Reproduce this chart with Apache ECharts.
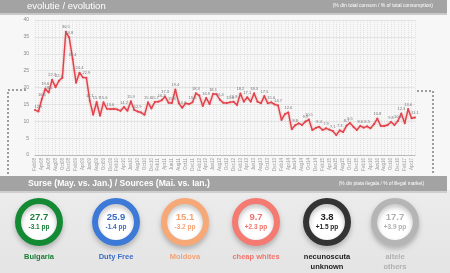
<!DOCTYPE html>
<html>
<head>
<meta charset="utf-8">
<script src="https://cdn.jsdelivr.net/npm/echarts@6/dist/echarts.min.js"></script>
<style>
  html, body { margin: 0; padding: 0; background: #f6f6f6; }
  #chart { width: 450px; height: 273px; }
</style>
</head>
<body>
<div id="chart"></div>
<script>
// evolutie - % din total consum (lunar)
const illegalShare = [
  13.3, 12.9, 16.6, 19.6, 18.5, 22.3, 20.1, 22.0, 22.9, 36.5,
  34.8, 28.4, 21.4, 24.4, 23.0, 22.9, 16.1, 11.9, 15.7, 11.6,
  15.6, 13.7, 13.6, 13.7, 13.5, 13.1, 14.2, 13.1, 15.9, 13.3,
  12.9, 12.6, 11.9, 15.6, 13.8, 15.7, 15.8, 16.2, 17.3, 15.5,
  15.4, 19.4, 15.3, 14.0, 15.3, 15.1, 15.6, 18.3, 17.6, 14.5,
  16.9, 15.1, 18.1, 18.0, 16.4, 15.5, 15.4, 15.6, 15.8, 14.8,
  18.2, 15.8, 17.1, 15.8, 18.3, 15.8, 15.3, 17.5, 15.3, 15.6,
  15.0, 14.7, 10.4, 12.1, 12.6, 7.6, 8.8, 9.4, 8.9, 9.9,
  10.5, 7.4, 8.0, 8.4, 7.4, 7.9, 7.5, 7.1, 5.9, 7.3,
  6.8, 8.7, 9.5, 8.4, 7.4, 8.6, 8.1, 8.5, 7.9, 9.1,
  10.8, 8.6, 8.6, 8.9, 9.8, 8.9, 10.1, 12.3, 9.4, 13.6,
  10.9, 11.1
];
// puncte cu eticheta vizibila
const labeledPoints = [
  1, 2, 3, 4, 5, 7, 9, 10, 11, 13, 15, 16, 18, 20, 22, 26, 28, 30, 33, 35,
  37, 38, 40, 41, 43, 46, 47, 50, 52, 54, 57, 58, 60, 62, 64, 67, 69, 71, 74, 76,
  79, 80, 83, 85, 87, 89, 91, 92, 95, 97, 100, 104, 106, 107, 109, 111
];
const monthNames = ["Jan", "Feb", "Mar", "Apr", "May", "Jun", "Jul", "Aug", "Sep", "Oct", "Nov", "Dec"];
const startYear = 2008;
const startMonth = 1; // Feb
const periods = illegalShare.map((_v, i) => {
  const m = (startMonth + i) % 12;
  const y = startYear + Math.floor((startMonth + i) / 12);
  return monthNames[m] + String(y).slice(2);
});

// surse - % din piata ilegala
const sourceNames = ["Bulgaria", "Duty Free", "Moldova", "cheap whites", "necunoscuta\nunknown", "altele\nothers"];
const sourceShares = [27.7, 25.9, 15.1, 9.7, 3.8, 17.7];
const sourceDeltas = [-3.1, -1.4, -3.2, 2.3, 1.5, 3.9];
const sourceColors = ["#148a35", "#3d7ad8", "#f6a877", "#f47a72", "#333333", "#b5b5b5"];
const sourceTextColors = ["#1a7d36", "#3a6cc4", "#f4a272", "#f2736b", "#222222", "#b0b0b0"];
const ringCenters = [39, 116, 185, 256, 327, 395];

const chart = echarts.init(document.getElementById("chart"), null, { renderer: "canvas" });

const fmtDelta = (d) => (d > 0 ? "+" : "") + d.toFixed(1) + " pp";

const ringSeries = [];
sourceShares.forEach((v, i) => {
  // disc alb
  ringSeries.push({
    type: "pie",
    silent: true,
    center: [ringCenters[i], 222],
    radius: [0, 18],
    z: 2,
    label: { show: false },
    labelLine: { show: false },
    itemStyle: { color: "#ffffff" },
    data: [{ value: v, name: sourceNames[i] }],
  });
  // inel
  ringSeries.push({
    type: "pie",
    silent: true,
    center: [ringCenters[i], 222],
    radius: [18, 24],
    z: 3,
    labelLine: { show: false },
    itemStyle: {
      color: sourceColors[i],
      shadowBlur: 5,
      shadowOffsetY: 3,
      shadowColor: "rgba(0,0,0,0.25)",
    },
    label: {
      show: true,
      position: "center",
      formatter: () => `{v|${v.toFixed(1)}}\n{d|${fmtDelta(sourceDeltas[i])}}`,
      rich: {
        v: { fontSize: 9.5, fontWeight: "bold", color: sourceTextColors[i], fontFamily: "Liberation Sans", lineHeight: 11 },
        d: { fontSize: 6.5, fontWeight: "bold", color: sourceTextColors[i], fontFamily: "Liberation Sans", lineHeight: 9 },
      },
    },
    data: [{ value: v, name: sourceNames[i] }],
  });
});

const nameTexts = sourceNames.map((n, i) => ({
  type: "text",
  z: 10,
  x: ringCenters[i],
  y: 252,
  style: {
    text: n,
    fill: sourceTextColors[i],
    font: "bold 7.5px 'Liberation Sans'",
    textAlign: "center",
    lineHeight: 10,
  },
}));

const dash = { stroke: "#444", lineWidth: 1, lineDash: [2, 2], fill: null };

const option = {
  backgroundColor: "#f7f7f7",
  animation: false,
  textStyle: { fontFamily: "Liberation Sans" },
  grid: { left: 35, right: 35, top: 20, bottom: 118 },
  xAxis: {
    type: "category",
    data: periods,
    boundaryGap: false,
    axisLine: { show: true, lineStyle: { color: "#bbbbbb", width: 1 } },
    axisTick: { show: false },
    axisLabel: { rotate: 90, interval: 1, fontSize: 4.5, color: "#999", margin: 3 },
    splitLine: { show: true, interval: 0, lineStyle: { color: "#d4d4d4", type: [1, 1], width: 0.6 } },
  },
  yAxis: {
    type: "value",
    min: 0,
    max: 40,
    interval: 5,
    axisLine: { show: false },
    axisTick: { show: false },
    axisLabel: { fontSize: 5, color: "#888", margin: 6 },
    splitLine: { lineStyle: { color: "#dedede", width: 0.8 } },
  },
  series: [
    {
      type: "line",
      data: illegalShare.map((v, i) => ({
        value: v,
        label: { show: labeledPoints.includes(i) },
      })),
      symbol: "circle",
      symbolSize: 2,
      showAllSymbol: true,
      lineStyle: { color: "#e2404a", width: 1.4, shadowColor: "rgba(230,60,60,0.45)", shadowBlur: 2 },
      itemStyle: { color: "#e2404a" },
      label: { position: "top", distance: 1.5, fontSize: 4, color: "#777", formatter: (p) => p.value.toFixed(1) },
      z: 5,
    },
    ...ringSeries,
  ],
  graphic: [
    // banda de jos
    { type: "rect", z: -10, shape: { x: 0, y: 190, width: 450, height: 83 },
      style: { fill: new echarts.graphic.LinearGradient(0, 0, 0, 1, [
        { offset: 0, color: "#ececec" }, { offset: 1, color: "#e4e4e4" }]) } },
    // antet sus
    { type: "rect", z: 1, shape: { x: 0, y: 12, width: 447, height: 3 }, style: { fill: "#c8c8c8" } },
    { type: "rect", z: 1, shape: { x: 0, y: 0, width: 447, height: 13 }, style: { fill: "#a3a3a3" } },
    { type: "text", z: 2, x: 27, y: 6, style: { text: "evolutie / evolution", fill: "#fff", font: "9.5px 'Liberation Sans'", textVerticalAlign: "middle" } },
    { type: "text", z: 2, x: 433, y: 6, style: { text: "(% din total consum / % of total consumption)", fill: "#fff", font: "5px 'Liberation Sans'", textAlign: "right", textVerticalAlign: "middle" } },
    // antet surse
    { type: "rect", z: 1, shape: { x: 0, y: 190, width: 447, height: 3 }, style: { fill: "#cfcfcf" } },
    { type: "rect", z: 1, shape: { x: 0, y: 176, width: 447, height: 15 }, style: { fill: "#a3a3a3" } },
    { type: "text", z: 2, x: 28, y: 184, style: { text: "Surse (May. vs. Jan.) / Sources (Mai. vs. Ian.)", fill: "#fff", font: "bold 8.6px 'Liberation Sans'", textVerticalAlign: "middle" } },
    { type: "text", z: 2, x: 424, y: 184, style: { text: "(% din piata ilegala / % of illegal market)", fill: "#fff", font: "4.8px 'Liberation Sans'", textAlign: "right", textVerticalAlign: "middle" } },
    // paranteze punctate
    { type: "polyline", z: 2, shape: { points: [[26, 90], [8, 90], [8, 175]] }, style: dash },
    { type: "polyline", z: 2, shape: { points: [[417, 91], [433, 91], [433, 175]] }, style: dash },
    ...nameTexts,
  ],
};

chart.setOption(option);
</script>
</body>
</html>
